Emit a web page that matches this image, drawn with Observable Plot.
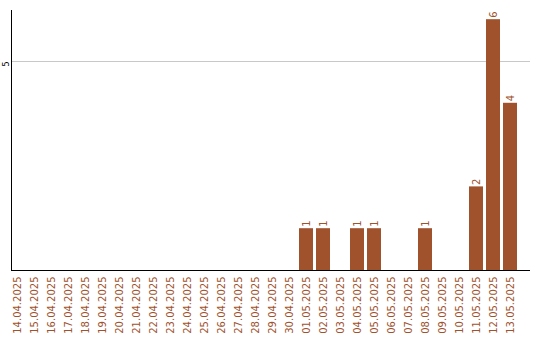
<!DOCTYPE html>
<html>
<head>
<meta charset="utf-8">
<script src="https://cdn.jsdelivr.net/npm/d3@7"></script>
<script src="https://cdn.jsdelivr.net/npm/@observablehq/plot@0.6"></script>
<style>
  html, body { margin: 0; padding: 0; background: #fff; }
</style>
</head>
<body>
<div id="chart"></div>
<script>
// Daily counts, 14.04.2025 – 13.05.2025
const dates = [
  "14.04.2025", "15.04.2025", "16.04.2025", "17.04.2025", "18.04.2025",
  "19.04.2025", "20.04.2025", "21.04.2025", "22.04.2025", "23.04.2025",
  "24.04.2025", "25.04.2025", "26.04.2025", "27.04.2025", "28.04.2025",
  "29.04.2025", "30.04.2025", "01.05.2025", "02.05.2025", "03.05.2025",
  "04.05.2025", "05.05.2025", "06.05.2025", "07.05.2025", "08.05.2025",
  "09.05.2025", "10.05.2025", "11.05.2025", "12.05.2025", "13.05.2025"
];
const counts = [
  0, 0, 0, 0, 0,
  0, 0, 0, 0, 0,
  0, 0, 0, 0, 0,
  0, 0, 1, 1, 0,
  1, 1, 0, 0, 1,
  0, 0, 2, 6, 4
];
const yTicks = [5];

const rows = dates.map((date, i) => ({date, count: counts[i]}));
const nonZero = rows.filter(d => d.count > 0);

const brown = "#a0522d";

const chart = Plot.plot({
  width: 540,
  height: 340,
  marginTop: 10,
  marginBottom: 70,
  marginLeft: 11,
  marginRight: 10,
  style: {fontFamily: "DejaVu Sans", fontSize: "10px", background: "#fff"},
  x: {type: "band", domain: dates, range: [8.5, 518.5], paddingInner: 0.18, paddingOuter: 0.09},
  y: {domain: [0, 6.22]},
  marks: [
    Plot.ruleY(yTicks, {stroke: "#c8c8c8"}),
    Plot.barY(nonZero, {x: "date", y: "count", fill: brown}),
    Plot.text(nonZero, {
      x: "date", y: "count", text: d => String(d.count),
      rotate: -90, textAnchor: "start", dy: -2, fill: brown, fontSize: 10
    }),
    Plot.axisX({tickSize: 0, tickPadding: 6, tickRotate: -90, fill: brown, fontSize: 10, label: null}),
    Plot.axisY({ticks: yTicks, tickFormat: d => String(d), tickSize: 0, tickPadding: 3, tickRotate: -90, dy: 2.5, fontSize: 8, label: null}),
    Plot.ruleY([0], {stroke: "#000", strokeWidth: 1}),
    Plot.frame({anchor: "left", stroke: "#000", strokeWidth: 1})
  ]
});

document.getElementById("chart").appendChild(chart);
</script>
</body>
</html>
